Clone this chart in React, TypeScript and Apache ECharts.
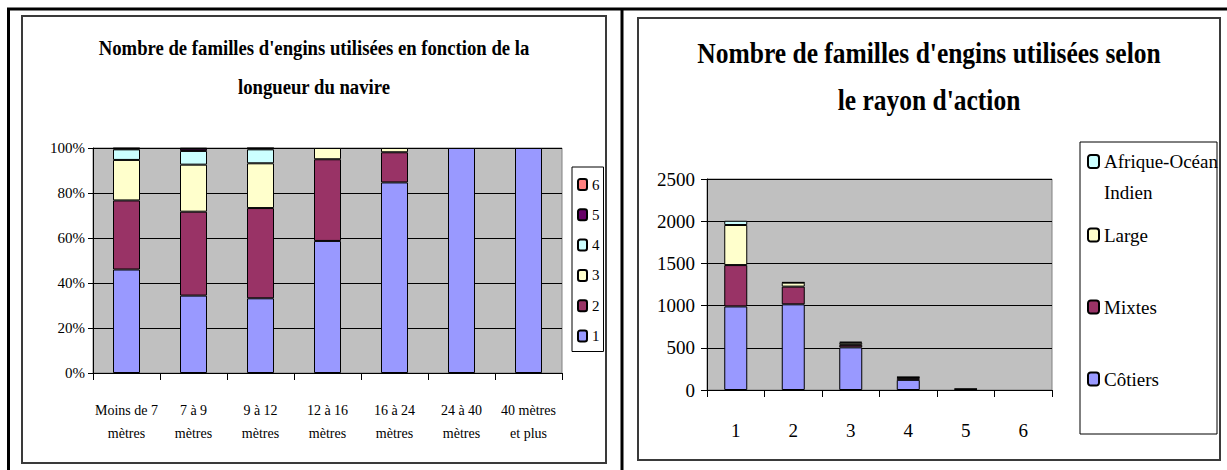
import React, { useEffect, useRef } from "react";
import * as echarts from "echarts";

// ---- Left chart data (percent of vessels by number of gear families) ----
const lengthCategories = [
  "Moins de 7\nmètres",
  "7 à 9\nmètres",
  "9 à 12\nmètres",
  "12 à 16\nmètres",
  "16 à 24\nmètres",
  "24 à 40\nmètres",
  "40 mètres\net plus",
];
const famille1 = [46, 34.4, 33.2, 58.7, 84.7, 100, 100];
const famille2 = [30.7, 37.3, 40.1, 36.3, 13.4, null, null];
const famille3 = [18.0, 20.9, 19.9, 5.0, 1.9, null, null];
const famille4 = [4.7, 6.1, 6.2, null, null, null, null];
const famille5 = [0.4, 1.0, 0.5, null, null, null, null];
const famille6 = [0.2, 0.3, 0.1, null, null, null, null];
const leftSeriesNames = ["1", "2", "3", "4", "5", "6"];

// ---- Right chart data (counts by rayon d'action) ----
const familyCounts = ["1", "2", "3", "4", "5", "6"];
const cotiers = [990, 1015, 505, 120, 10, null];
const mixtes = [490, 210, 30, 20, 5, null];
const large = [475, 47, 25, 10, null, null];
const afrique = [50, 5, 12, 5, null, null];

const leftTitle1 = "Nombre de familles d'engins utilisées en fonction de la";
const leftTitle2 = "longueur du navire";
const rightTitle1 = "Nombre de familles d'engins utilisées selon";
const rightTitle2 = "le rayon d'action";

const FONT = "Liberation Serif";

const colors: Record<string, string> = {
  "1": "#9999FF",
  "2": "#993366",
  "3": "#FFFFCC",
  "4": "#CCFFFF",
  "5": "#660066",
  "6": "#FF8080",
  "Côtiers": "#9999FF",
  "Mixtes": "#993366",
  "Large": "#FFFFCC",
  "Afrique-Océan Indien": "#CCFFFF",
};

function titleText(text: string, x: number, y: number, size: number, sx: number) {
  return {
    type: "text",
    x,
    y,
    scaleX: sx,
    style: {
      text,
      x: 0,
      y: 0,
      fontSize: size,
      fontWeight: "bold",
      fontFamily: FONT,
      fill: "#000",
      align: "center",
      verticalAlign: "middle",
      textAlign: "center",
      textVerticalAlign: "middle",
    },
  };
}

export default function App() {
  const ref = useRef<HTMLDivElement>(null);

  useEffect(() => {
    if (!ref.current) return;
    const chart = echarts.init(ref.current, undefined, { renderer: "svg" });

    const leftData = [famille1, famille2, famille3, famille4, famille5, famille6];
    const leftSeries = leftSeriesNames.map((name, i) => ({
      name,
      type: "bar",
      stack: "left",
      xAxisIndex: 0,
      yAxisIndex: 0,
      barWidth: 27,
      data: leftData[i],
      itemStyle: { color: colors[name], borderColor: "#000", borderWidth: 1 },
    }));

    const rightNames = ["Côtiers", "Mixtes", "Large", "Afrique-Océan Indien"];
    const rightData = [cotiers, mixtes, large, afrique];
    const rightSeries = rightNames.map((name, i) => ({
      name,
      type: "bar",
      stack: "right",
      xAxisIndex: 1,
      yAxisIndex: 1,
      barWidth: 23,
      data: rightData[i],
      itemStyle: { color: colors[name], borderColor: "#000", borderWidth: 1 },
    }));

    const rightLegend = (name: string, top: number, lineHeight: number, formatter?: string) => ({
      data: [name],
      orient: "vertical",
      left: 1087,
      top,
      padding: 0,
      itemWidth: 11,
      itemHeight: 13,
      selectedMode: false,
      formatter: formatter ? () => formatter : undefined,
      textStyle: { fontFamily: FONT, fontSize: 19, color: "#000", lineHeight },
    });

    chart.setOption({
      animation: false,
      backgroundColor: "#fff",
      textStyle: { fontFamily: FONT },
      grid: [
        {
          left: 93,
          top: 148,
          width: 469,
          height: 225,
          show: true,
          backgroundColor: "#C0C0C0",
          borderColor: "#808080",
          borderWidth: 1,
        },
        {
          left: 707,
          top: 179,
          width: 345,
          height: 211,
          show: true,
          backgroundColor: "#C0C0C0",
          borderColor: "#808080",
          borderWidth: 1,
        },
      ],
      xAxis: [
        {
          gridIndex: 0,
          type: "category",
          data: lengthCategories,
          axisLine: { lineStyle: { color: "#000", width: 1 } },
          axisTick: { show: true, length: 7, lineStyle: { color: "#000" } },
          axisLabel: {
            color: "#000",
            fontFamily: FONT,
            fontSize: 14,
            lineHeight: 23,
            margin: 26,
            interval: 0,
          },
        },
        {
          gridIndex: 1,
          type: "category",
          data: familyCounts,
          axisLine: { lineStyle: { color: "#000", width: 1 } },
          axisTick: { show: true, length: 7, lineStyle: { color: "#000" } },
          axisLabel: { color: "#000", fontFamily: FONT, fontSize: 19, margin: 31 },
        },
      ],
      yAxis: [
        {
          gridIndex: 0,
          type: "value",
          min: 0,
          max: 100,
          interval: 20,
          axisLine: { show: true, lineStyle: { color: "#000", width: 1 } },
          axisTick: { show: true, length: 5, lineStyle: { color: "#000" } },
          splitLine: { show: true, lineStyle: { color: "#000", width: 1 } },
          axisLabel: {
            color: "#000",
            fontFamily: FONT,
            fontSize: 15,
            margin: 8,
            formatter: (v: number) => v + "%",
          },
        },
        {
          gridIndex: 1,
          type: "value",
          min: 0,
          max: 2500,
          interval: 500,
          axisLine: { show: true, lineStyle: { color: "#000", width: 1 } },
          axisTick: { show: true, length: 6, lineStyle: { color: "#000" } },
          splitLine: { show: true, lineStyle: { color: "#000", width: 1 } },
          axisLabel: {
            color: "#000",
            fontFamily: FONT,
            fontSize: 19,
            margin: 12,
            formatter: (v: number) => String(v),
          },
        },
      ],
      legend: [
        {
          data: ["6", "5", "4", "3", "2", "1"],
          orient: "vertical",
          left: 572,
          top: 167,
          padding: [10, 4, 8, 5],
          backgroundColor: "#fff",
          borderColor: "#000",
          borderWidth: 1,
          itemWidth: 9,
          itemHeight: 11,
          itemGap: 15.3,
          selectedMode: false,
          textStyle: { fontFamily: FONT, fontSize: 15, color: "#000", lineHeight: 15 },
        },
        rightLegend("Afrique-Océan Indien", 115, 31, "\nAfrique-Océan\nIndien"),
        rightLegend("Large", 225, 20),
        rightLegend("Mixtes", 297, 20),
        rightLegend("Côtiers", 369, 20),
      ],
      graphic: [
        // outer table lines
        { type: "line", shape: { x1: 7, y1: 9, x2: 1227, y2: 9 }, style: { stroke: "#000", lineWidth: 3 } },
        { type: "line", shape: { x1: 8.5, y1: 8, x2: 8.5, y2: 470 }, style: { stroke: "#000", lineWidth: 3 } },
        { type: "line", shape: { x1: 622, y1: 8, x2: 622, y2: 470 }, style: { stroke: "#000", lineWidth: 3 } },
        // chart frames
        { type: "rect", shape: { x: 22, y: 16, width: 584, height: 447 }, style: { fill: "none", stroke: "#3a3a3a", lineWidth: 2 } },
        { type: "rect", shape: { x: 638, y: 18, width: 582, height: 442 }, style: { fill: "none", stroke: "#3a3a3a", lineWidth: 2 } },
        // right legend box
        { type: "rect", shape: { x: 1080, y: 142, width: 137, height: 292 }, style: { fill: "none", stroke: "#000", lineWidth: 1 } },
        // titles
        titleText(leftTitle1, 314, 47, 22, 0.85),
        titleText(leftTitle2, 314, 86, 22, 0.85),
        titleText(rightTitle1, 929, 53, 30, 0.85),
        titleText(rightTitle2, 929, 100, 30, 0.85),
      ],
      series: [...leftSeries, ...rightSeries],
    });

    return () => chart.dispose();
  }, []);

  return (
    <div
      ref={ref}
      style={{ position: "absolute", left: 0, top: 0, width: 1227, height: 470 }}
    />
  );
}
